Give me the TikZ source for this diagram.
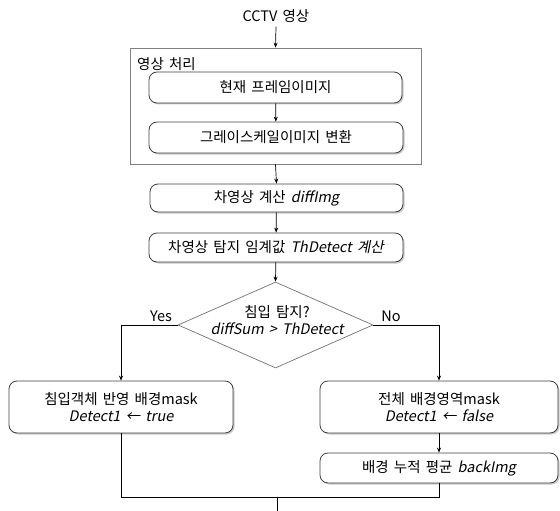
\documentclass[tikz,border=0pt]{standalone}
\usepackage{fontspec}
\setmainfont{Noto Sans CJK KR}[WordSpace=1.6]
\newfontfamily\slfont{Noto Sans CJK KR}[FakeSlant=0.2,WordSpace=1.6]
\usetikzlibrary{shapes.geometric,arrows.meta,shadows}
\newcommand{\sv}[1]{{\slfont #1}}
\begin{document}
\begin{tikzpicture}[x=1pt,y=-1pt,
  font=\fontsize{14.5}{17}\selectfont,
  proc/.style={draw=black!75, line width=0.8pt, rounded corners=8pt, fill=white,
    drop shadow={shadow xshift=1.5pt,shadow yshift=-1.5pt,opacity=0.35,fill=black!60},
    align=center, inner sep=0pt},
  arr/.style={-{Stealth[length=5pt,width=4pt]}, line width=0.7pt},
  conn/.style={line width=0.7pt},
  lbl/.style={inner sep=0pt}
]
\useasboundingbox (0,0) rectangle (560,511);

\node[lbl] (cctv) at (276,16) {CCTV 영상};
\node[draw=black!50, line width=0.8pt, minimum width=291pt, minimum height=116pt, inner sep=0pt] (outer) at (275.5,106) {};
\node[lbl, anchor=west] (grp) at (137,64) {영상 처리};
\node[proc, minimum width=253pt, minimum height=31pt] (b1) at (275.5,87.5) {현재 프레임이미지};
\node[proc, minimum width=254pt, minimum height=31pt] (b2) at (276,137.5) {그레이스케일이미지 변환};
\node[proc, minimum width=253pt, minimum height=28pt] (b3) at (276.5,198) {차영상 계산 \sv{diffImg}};
\node[proc, minimum width=254pt, minimum height=29pt] (b4) at (276,247.5) {차영상 탐지 임계값 \sv{ThDetect 계산}};
\node[diamond, draw=black!55, line width=0.7pt, fill=white, minimum width=195pt, minimum height=86pt, inner sep=0pt] (dec) at (275.5,325) {};
\node[lbl, align=center] (dect) at (277,320) {침입 탐지?\\\sv{diffSum > ThDetect}};
\node[lbl] (yes) at (161,316) {Yes};
\node[lbl] (no) at (391,316) {No};
\node[proc, minimum width=224pt, minimum height=52pt] (lb) at (121,407) {침입객체 반영 배경mask\\\sv{Detect1 ← true}};
\node[proc, minimum width=238pt, minimum height=52pt] (rb) at (439,407) {전체 배경영역mask\\\sv{Detect1 ← false}};
\node[proc, minimum width=238pt, minimum height=30pt] (bb) at (439,468) {배경 누적 평균 \sv{backImg}};
\coordinate (merge) at (277,497);
\coordinate (exit) at (277,511);

\draw[arr] (cctv.south) ++(0,4) -- (outer.north);
\draw[arr] (b1) -- (b2);
\draw[arr] (outer.south) -- (b3.north);
\draw[arr] (b3) -- (b4);
\draw[arr] (b4) -- (dec.north);
\draw[arr] (dec.west) -| (lb.north);
\draw[arr] (dec.east) -| (rb.north);
\draw[arr] (rb) -- (bb);
\draw[conn] (lb.south) |- (merge);
\draw[conn] (bb.south) |- (merge);
\draw[conn] (merge) -- (exit);
\end{tikzpicture}
\end{document}
